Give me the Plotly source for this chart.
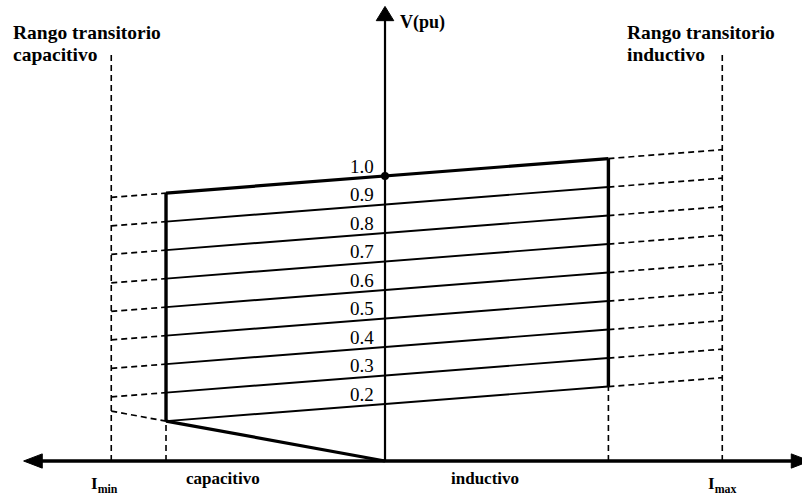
import plotly.graph_objects as go

# ---- data (per-unit quantities) ----
v_levels = [1.0, 0.9, 0.8, 0.7, 0.6, 0.5, 0.4, 0.3, 0.2]
v_labels = ["1.0", "0.9", "0.8", "0.7", "0.6", "0.5", "0.4", "0.3", "0.2"]
slope = 0.06          # pu voltage per pu current
i_cap = -1.0          # capacitive limit (continuous)
i_ind = 1.02          # inductive limit (continuous)
i_min = -1.25         # transient capacitive limit
i_max = 1.54          # transient inductive limit
axis_x_ends = [-1.62, 1.89]
axis_y_top = 1.595

X_RANGE = [-1.758, 1.904]
Y_RANGE = [-0.1263, 1.6175]

def v_at(v0, i):
    return v0 + slope * i

fig = go.Figure()
BLK = "black"
FONT = "Liberation Serif"
DASH = "6px,4px"

def line(xs, ys, width=1.8, dash="solid"):
    fig.add_trace(go.Scatter(x=xs, y=ys, mode="lines",
                             line=dict(color=BLK, width=width, dash=dash),
                             hoverinfo="skip", showlegend=False))

# main axes
line(axis_x_ends, [0, 0], width=3.5)
line([0, 0], [0, axis_y_top - 0.04], width=2.2)

# arrow heads (filled triangles)
def tri(xs, ys):
    fig.add_trace(go.Scatter(x=xs, y=ys, mode="lines", fill="toself",
                             fillcolor=BLK, line=dict(color=BLK, width=1),
                             hoverinfo="skip", showlegend=False))

dx = 0.085; dy = 0.025
tri([axis_x_ends[0] - 0.03, axis_x_ends[0] - 0.03 + dx, axis_x_ends[0] - 0.03 + dx, axis_x_ends[0] - 0.03],
    [0, dy, -dy, 0])
tri([axis_x_ends[1] + 0.05, axis_x_ends[1] + 0.05 - dx, axis_x_ends[1] + 0.05 - dx, axis_x_ends[1] + 0.05],
    [0, dy, -dy, 0])
tri([0, -0.04, 0.04, 0], [axis_y_top, axis_y_top - 0.05, axis_y_top - 0.05, axis_y_top])

# transient range dashed verticals
line([i_min, i_min], [0, 1.43], width=1.6, dash=DASH)
line([i_max, i_max], [0, 1.43], width=1.6, dash=DASH)

# continuous-limit dashed drops to axis
v_low = v_levels[-1]
line([i_cap, i_cap], [0, v_at(v_low, i_cap)], width=1.6, dash=DASH)
line([i_ind, i_ind], [0, v_at(v_low, i_ind)], width=1.6, dash=DASH)

# voltage characteristic lines
for k, v0 in enumerate(v_levels):
    w = 3.2 if k == 0 else 1.9
    line([i_cap, i_ind], [v_at(v0, i_cap), v_at(v0, i_ind)], width=w)
    # right dashed extension
    line([i_ind, i_max], [v_at(v0, i_ind), v_at(v0, i_max)], width=1.7, dash=DASH)
    # left dashed extension (not for the lowest)
    if k < len(v_levels) - 1:
        line([i_min, i_cap], [v_at(v0, i_min), v_at(v0, i_cap)], width=1.7, dash=DASH)
    fig.add_annotation(x=-0.04, y=v_at(v0, -0.10), text=v_labels[k], showarrow=False,
                       xanchor="right", yanchor="bottom", yshift=-1,
                       font=dict(family=FONT, size=19, color=BLK))

# thick vertical limits
line([i_cap, i_cap], [v_at(v_levels[-1], i_cap), v_at(v_levels[0], i_cap)], width=3.4)
line([i_ind, i_ind], [v_at(v_levels[-1], i_ind), v_at(v_levels[0], i_ind)], width=3.4)

# capacitive diagonal from origin
v_corner = v_at(v_low, i_cap)
line([i_cap, 0], [v_corner, 0], width=3.2)
line([i_min, i_cap], [v_corner * i_min / i_cap, v_corner], width=1.7, dash=DASH)

# dot at nominal
fig.add_trace(go.Scatter(x=[0], y=[v_levels[0]], mode="markers",
                         marker=dict(color=BLK, size=8), hoverinfo="skip", showlegend=False))

def txt(x, y, s, size=18, anchor="left", bold=True):
    fig.add_annotation(x=x, y=y, text=("<b>%s</b>" % s) if bold else s, showarrow=False,
                       xanchor=anchor, yanchor="middle",
                       font=dict(family=FONT, size=size, color=BLK))

txt(-1.71, 1.505, "Rango transitorio", size=19.5)
txt(-1.71, 1.425, "capacitivo", size=19.5)
txt(1.095, 1.505, "Rango transitorio", size=19.5)
txt(1.095, 1.425, "inductivo", size=19.5)
txt(0.06, 1.54, "V(pu)", size=18)
txt(-0.74, -0.063, "capacitivo", size=17, anchor="center")
txt(0.455, -0.063, "inductivo", size=17, anchor="center")
txt(i_min - 0.03, -0.083, "I<sub>min</sub>", size=17, anchor="center")
txt(i_max + 0.0, -0.083, "I<sub>max</sub>", size=17, anchor="center")

fig.update_layout(
    width=802, height=497, margin=dict(l=0, r=0, t=0, b=0),
    plot_bgcolor="white", paper_bgcolor="white",
    xaxis=dict(range=X_RANGE, visible=False, fixedrange=True),
    yaxis=dict(range=Y_RANGE, visible=False, fixedrange=True),
    showlegend=False,
)
fig.write_html("out.html", config={"displayModeBar": False},
               post_script="document.body.style.margin='0px';document.body.style.overflow='hidden';")
